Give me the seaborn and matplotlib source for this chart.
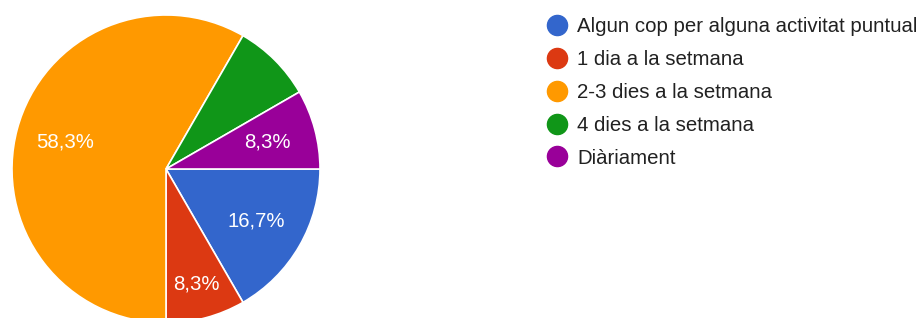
import numpy as np
import matplotlib
matplotlib.use("Agg")
import matplotlib.pyplot as plt
from matplotlib.lines import Line2D
import seaborn as sns

# Responses (12 in total)
categories = [
    "Algun cop per alguna activitat puntual",
    "1 dia a la setmana",
    "2-3 dies a la setmana",
    "4 dies a la setmana",
    "Diàriament",
]
counts = [2, 1, 7, 1, 1]
colors = ["#3366cc", "#dc3912", "#ff9900", "#109618", "#990099"]
hidden_labels = ["4 dies a la setmana"]  # Google hides this one

sns.set_theme(style="white")
plt.rcParams["font.family"] = ["Liberation Sans", "DejaVu Sans"]

W, H = 923, 318
fig = plt.figure(figsize=(W / 100, H / 100), dpi=100)
ax = fig.add_axes([0, 0, 1, 1])

def fmt_pct(p):
    return f"{p:.1f}%".replace(".", ",")

wedges, texts, autotexts = ax.pie(
    counts,
    colors=colors,
    startangle=0,
    counterclock=False,
    center=(166, H - 169),
    radius=154,
    autopct=fmt_pct,
    pctdistance=0.68,
    wedgeprops=dict(edgecolor="white", linewidth=1.2),
    textprops=dict(color="white", fontsize=14.7),
)

for cat, w, t in zip(categories, wedges, autotexts):
    if cat in hidden_labels:
        t.set_text("")
    if cat == "1 dia a la setmana":
        ang = np.deg2rad((w.theta1 + w.theta2) / 2)
        r = 0.77 * w.r
        t.set_position((w.center[0] + r * np.cos(ang), w.center[1] + r * np.sin(ang)))

ax.set_xlim(0, W)
ax.set_ylim(0, H)
ax.set_aspect("equal")
ax.axis("off")

handles = [
    Line2D([], [], marker="o", linestyle="none", markersize=14.5,
           markerfacecolor=c, markeredgecolor=c)
    for c in colors
]
ax.legend(
    handles, categories,
    loc="upper left",
    bbox_to_anchor=(547, H - 17),
    bbox_transform=ax.transData,
    frameon=False,
    fontsize=14.7,
    labelcolor="#212121",
    handlelength=1.0,
    handletextpad=0.48,
    borderpad=0,
    borderaxespad=0,
    labelspacing=0.68,
)

fig.savefig("out.png", dpi=100, facecolor="white")
